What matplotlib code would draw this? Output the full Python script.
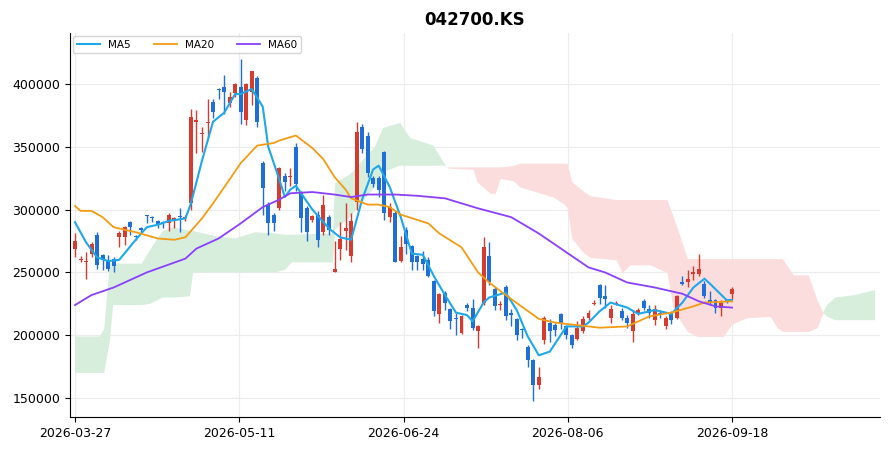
import matplotlib
matplotlib.use("Agg")
import matplotlib.pyplot as plt
import numpy as np

title = "042700.KS"
xtick_labels = ["2026-03-27", "2026-05-11", "2026-06-24", "2026-08-06", "2026-09-18"]

opens = [269,260,258,265,280,264,260,261,278,278,290,279,285,296,294,291,290,289,292,295,293,305,370,360,369,386,396,398,385,393,
         398,371,394,405,337,304,296,301,327,326,350,313,301,292,296,282,294,250,269,283,263,306,366,359,325,325,346,294,297,259,
         284,271,263,261,260,243,217,234,221,214,202,224,222,203,226,263,237,224,238,218,213,205,191,180,160,196,210,208,217,207,
         200,197,203,214,225,240,231,214,225,219,214,203,218,227,221,212,218,207,217,214,242,242,249,249,241,228,228,222,228,233]
closes = [275,261,259,273,256,260,253,255,281,286,286,278,284,295,293,288,289,296,293,294,294,374,371,361,370,378,395,394,390,400,
          378,400,410,370,317,289,289,333,322,327,320,293,282,295,276,304,284,253,277,285,291,362,348,329,320,316,297,302,258,270,
          273,258,258,257,247,219,233,226,211,213,215,222,206,207,270,242,223,225,215,216,200,204,180,160,167,214,203,204,210,200,
          192,206,213,218,226,230,229,221,226,214,210,217,220,222,218,221,216,214,212,231,241,245,250,253,231,226,222,226,227,237]
highs = [281,263,266,274,282,265,264,262,283,287,291,280,286,296,295,292,291,297,294,301,296,380,379,366,388,388,397,407,394,401,
         420,401,410,406,339,306,297,334,329,333,353,315,303,296,299,312,296,275,290,305,297,370,368,362,327,327,347,305,299,279,
         286,272,264,267,262,244,234,235,222,218,216,226,229,208,278,274,238,227,240,221,214,206,192,181,175,215,213,210,218,208,
         201,211,215,220,228,241,240,224,227,222,216,220,222,229,224,224,220,215,219,232,247,252,255,265,243,235,229,228,229,238]
lows = [262,258,245,262,253,252,251,250,270,272,280,276,282,289,290,285,285,283,285,282,291,300,345,346,358,373,388,376,382,390,
        368,367,383,366,296,280,283,300,315,319,315,282,275,290,270,280,280,250,260,268,258,300,345,326,318,310,292,290,258,258,
        265,252,252,252,246,215,210,220,205,200,201,219,204,190,224,240,220,220,212,207,196,198,175,148,157,193,195,199,205,197,
        190,196,202,212,224,225,222,210,224,212,206,195,216,220,214,208,214,205,209,213,240,238,244,247,230,224,218,215,226,229]

ma5_idx = [0,2,4,6,8,11,13,15,17,20,21,23,25,27,29,30,32,34,35,37,38,39,40,43,46,48,50,52,54,55,57,59,61,63,65,67,69,71,72,74,
           75,78,80,82,84,86,89,92,93,95,97,100,102,105,108,110,112,114,115,118,119]
ma5_val = [290,274,262,259,260,276,286,288,291,293,305,339,370,377,392,392,396,382,350,324,310,316,319,300,285,278,276,308,332,335,
           318,294,265,264,247,232,218,216,211,226,230,234,220,199,184,187,207,207,210,219,226,222,217,220,217,226,238,245,241,228,228]
ma20_idx = [0,1,3,5,7,11,15,18,20,23,25,28,30,33,36,37,40,43,45,47,49,50,53,55,57,59,64,66,70,73,75,78,84,87,91,95,100,104,108,112,114,119]
ma20_val = [303,299,299,294,286,282,277,276,278,293,305,324,337,351,353,355,359,349,340,326,316,309,304,304,302,296,289,281,270,250,
            242,232,213,210,208,206,207,215,218,223,226,227]
ma60_idx = [0,3,7,13,20,22,26,30,34,37,39,43,47,50,53,58,62,67,70,73,79,84,89,93,96,100,105,110,113,116,119]
ma60_val = [224,232,238,250,261,269,277,289,302,308,313,314,312,310,312,312,311,309,305,301,294,281,266,254,250,242,238,233,227,223,222]

cloud_x = [0,4.5,5.3,6.3,6.9,12.1,13.6,15.9,17.8,20.8,21.4,25.4,29.0,32.6,36.2,38.0,39.3,46.7,47.1,49.8,54.3,55.8,58.9,60.7,64.9,67.0,
           67.6,72.1,72.8,75.2,76.1,77.0,79.3,80.6,86.6,88.4,89.1,90.0,92.0,93.3,98.0,99.1,100.5,104.2,107.2,108.3,109.1,110.9,112.7,117.4,
           119.0,121.7,125.9,127.2,128.1,130.1,132.8,134.4,135.5,136.2,137.7,141.3,144.9]
span_a = [199,199,205,257,257,257,268,283,286,283,283,279,277,282,281,280,280,281,321,328,350,365,369,357,351,336,
          333,332,322,313,313,325,323,318,310,305,302,277,266,262,260,250,256,256,250,222,215,203,199,199,209,214,215,206,203,203,203,206,218,
          224,230,232,236]
span_b = [170,170,170,195,224,224,225,230,230,231,250,250,250,250,250,252,258,258,284,294,318,330,335,335,335,335,
          334,334,334,334,334,334,335,337,337,337,337,322,315,311,308,308,308,308,308,295,285,261,261,261,261,261,261,261,261,248,248,228,218,
          215,212,212,212]

K = 1000
n = len(closes)
x = np.arange(n)
o = np.array(opens) * K; c = np.array(closes) * K
h = np.array(highs) * K; l = np.array(lows) * K
up = c >= o

fig = plt.figure(figsize=(8.91, 4.51), dpi=100)
ax = fig.add_axes([0.0786, 0.0754, 0.9091, 0.8514])

cx = np.array(cloud_x)
sa = np.array(span_a) * K; sb = np.array(span_b) * K
ax.fill_between(cx, sa, sb, where=sa >= sb, interpolate=True, color="#d7eedd", lw=0, zorder=1)
ax.fill_between(cx, sa, sb, where=sa < sb, interpolate=True, color="#fbdddd", lw=0, zorder=1)

red = "#d63b2f"; blue = "#1f6fd6"
cols = np.where(up, red, blue)
ax.vlines(x, l, h, colors=cols, lw=1, zorder=3)
ax.bar(x, np.maximum(np.abs(c - o), 800), bottom=np.minimum(o, c), width=0.72,
       color=cols, zorder=4, linewidth=0)

ax.plot(ma5_idx, np.array(ma5_val) * K, color="#1ea7ea", lw=1.5, label="MA5", zorder=5)
ax.plot(ma20_idx, np.array(ma20_val) * K, color="#f39c12", lw=1.3, label="MA20", zorder=5)
ax.plot(ma60_idx, np.array(ma60_val) * K, color="#8a3ffc", lw=1.3, label="MA60", zorder=5)

ax.set_xlim(-0.9, 145.8)
ax.set_ylim(134900, 440600)
ax.set_xticks(np.linspace(0, n - 1, len(xtick_labels)))
ax.set_xticklabels(xtick_labels)
ax.set_yticks([150000, 200000, 250000, 300000, 350000, 400000])
ax.yaxis.set_major_formatter(matplotlib.ticker.FuncFormatter(lambda v, p: f"{int(v)}"))
ax.tick_params(labelsize=9)
ax.grid(True, color="#ececec", lw=0.8, zorder=0)
ax.set_axisbelow(True)
for s in ["top", "right"]:
    ax.spines[s].set_visible(False)
ax.set_title(title, fontsize=12, fontweight="bold")
ax.legend(loc="upper left", ncol=3, fontsize=7.5, frameon=True, handlelength=2.2,
          columnspacing=2.2, borderaxespad=0.3, borderpad=0.35)
fig.savefig("out.png", dpi=100)
